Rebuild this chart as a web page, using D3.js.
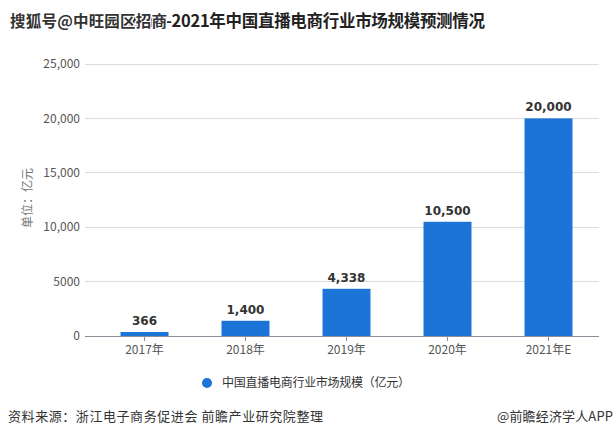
<!DOCTYPE html>
<html><head><meta charset="utf-8">
<script src="https://cdn.jsdelivr.net/npm/d3@7"></script>
<style>body{margin:0;background:#fff;} svg{display:block;font-family:"Microsoft YaHei","Noto Sans CJK SC",sans-serif;}</style>
</head><body>
<script>
const categories = ["2017年","2018年","2019年","2020年","2021年E"];
const values = [366, 1400, 4338, 10500, 20000];
const yTicks = [0, 5000, 10000, 15000, 20000, 25000];
const yTickLabels = ["0","5000","10,000","15,000","20,000","25,000"];
const valueLabels = ["366","1,400","4,338","10,500","20,000"];
const seriesName = "中国直播电商行业市场规模（亿元）";
const title = "2017-2021年中国直播电商行业市场规模预测情况";
const watermark = "搜狐号@中旺园区招商";
const source = "资料来源：浙江电子商务促进会 前瞻产业研究院整理";
const credit = "@前瞻经济学人APP";
const yTitle = "单位：亿元";

const W = 615, H = 438;
const svg = d3.select("body").append("svg").attr("width", W).attr("height", H);
const color = "#1b74d6";

const x = d3.scaleBand().domain(categories).range([94, 599]).paddingInner(0.525).paddingOuter(0.2625);
const y = d3.scaleLinear().domain([0, 25000]).range([336, 64]);

// gridlines
svg.append("g").selectAll("line").data(yTicks.filter(d => d > 0)).join("line")
  .attr("x1", 85).attr("x2", 599).attr("y1", d => y(d)).attr("y2", d => y(d))
  .attr("stroke", "#dcdcdc").attr("stroke-width", 1).attr("shape-rendering", "crispEdges");

// y labels
svg.append("g").selectAll("text").data(yTicks).join("text")
  .attr("x", 80).attr("y", d => y(d)).attr("dy", "0.35em").attr("text-anchor", "end")
  .attr("font-size", 12).attr("fill", "#555").text((d, i) => yTickLabels[i]);

// bars
svg.append("g").selectAll("rect").data(values).join("rect")
  .attr("x", (d, i) => x(categories[i])).attr("width", x.bandwidth())
  .attr("y", d => y(d)).attr("height", d => y(0) - y(d)).attr("fill", color);

// value labels
svg.append("g").selectAll("text").data(values).join("text")
  .attr("x", (d, i) => x(categories[i]) + x.bandwidth() / 2).attr("y", d => y(d) - 7)
  .attr("text-anchor", "middle").attr("font-size", 12).attr("font-weight", "bold")
  .attr("font-family", "Verdana, 'DejaVu Sans', sans-serif")
  .attr("fill", "#333").text((d, i) => valueLabels[i]);

// x axis
const xAxis = svg.append("g").attr("transform", `translate(0,${y(0)})`)
  .call(d3.axisBottom(x).tickSize(5).tickPadding(4));
xAxis.select(".domain").attr("d", "M85,0.5H599").attr("stroke", "#8a9099");
xAxis.selectAll(".tick line").attr("stroke", "#8a9099");
xAxis.selectAll(".tick text").attr("font-size", 12).attr("fill", "#555")
  .attr("font-family", "'Microsoft YaHei','Noto Sans CJK SC',sans-serif");

// y title
svg.append("text").attr("transform", "translate(32,198) rotate(-90)")
  .attr("text-anchor", "middle").attr("font-size", 12).attr("fill", "#777").text(yTitle);

// legend
svg.append("circle").attr("cx", 207).attr("cy", 383).attr("r", 5).attr("fill", color);
svg.append("text").attr("x", 222).attr("y", 383).attr("dy", "0.35em")
  .attr("font-size", 12).attr("fill", "#333")
  .attr("textLength", 188).attr("lengthAdjust", "spacing").text(seriesName);

// footer
svg.append("text").attr("x", 8).attr("y", 421).attr("font-size", 13).attr("fill", "#333")
  .attr("textLength", 315).attr("lengthAdjust", "spacing").text(source);
svg.append("text").attr("x", 497).attr("y", 421).attr("font-size", 13).attr("fill", "#333")
  .attr("textLength", 116).attr("lengthAdjust", "spacing").text(credit);

// title
svg.append("text").attr("x", 128).attr("y", 27).attr("font-size", 16.5).attr("font-weight", "bold").attr("fill", "#222")
  .attr("textLength", 357).attr("lengthAdjust", "spacing").text(title);
// watermark
svg.append("text").attr("x", 10).attr("y", 27).attr("font-size", 15.5).attr("font-weight", "bold")
  .attr("fill", "#333").attr("stroke", "#fff").attr("stroke-width", 2.5).attr("paint-order", "stroke")
  .attr("textLength", 157).attr("lengthAdjust", "spacing")
  .text(watermark);
</script>
</body></html>
